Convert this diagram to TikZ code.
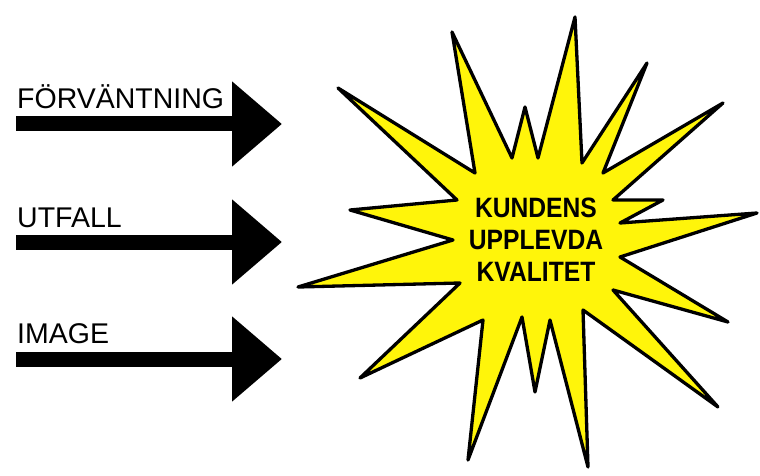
\documentclass[tikz,border=0pt]{standalone}
\usepackage{fontspec}
\setmainfont{Liberation Sans}
\newfontfamily\burstfont[FakeStretch=0.88]{Liberation Sans}
\usepackage{xcolor}
\usepackage{tikz}
\usetikzlibrary{arrows.meta,positioning}
\definecolor{burstfill}{RGB}{255,245,10}

\begin{document}
\begin{tikzpicture}[
  x=1pt, y=-1pt,
  lbl/.style={anchor=base west, inner sep=0pt, font=\fontsize{28.5}{30}\selectfont},
  feed/.style={line width=15pt, line cap=butt, -{Triangle[length=50pt, width=82pt]}},
  burst/.style={draw, line width=3.3pt, line join=round, fill=burstfill},
  burstlbl/.style={align=center, inner sep=0pt, font=\burstfont\bfseries\fontsize{28}{32}\selectfont}
]
  \useasboundingbox (0,0) rectangle (760,476);

  % inputs on the left
  \coordinate (forvs) at (16,124);
  \coordinate (forve) at (282,124);
  \coordinate (utfs) at (16,242);
  \coordinate (utfe) at (282,242);
  \coordinate (imgs) at (16,359);
  \coordinate (imge) at (282,359);

  \node[lbl] (forv) at (17,109) {FÖRVÄNTNING};
  \node[lbl] (utf) at (17,227) {UTFALL};
  \node[lbl] (img) at (17,343) {IMAGE};

  \draw[feed] (forvs) -- (forve);
  \draw[feed] (utfs) -- (utfe);
  \draw[feed] (imgs) -- (imge);

  % the star
  \draw[burst] (575,17) -- (582,163) -- (647,63) -- (603,173) -- (723,103)
    -- (613,200) -- (663,200) -- (620,223) -- (757,213) -- (620,257)
    -- (728,322) -- (613,290) -- (718,407) -- (583,310) -- (588,467)
    -- (550,320) -- (535,392) -- (522,317) -- (468,460) -- (483,320)
    -- (360,378) -- (460,283) -- (298,287) -- (453,240) -- (350,210)
    -- (457,200) -- (338,88) -- (475,173) -- (452,32) -- (512,158)
    -- (525,107) -- (538,158) -- cycle;

  \node[burstlbl] (quality) at (536,240) {KUNDENS\\UPPLEVDA\\KVALITET};
\end{tikzpicture}
\end{document}
